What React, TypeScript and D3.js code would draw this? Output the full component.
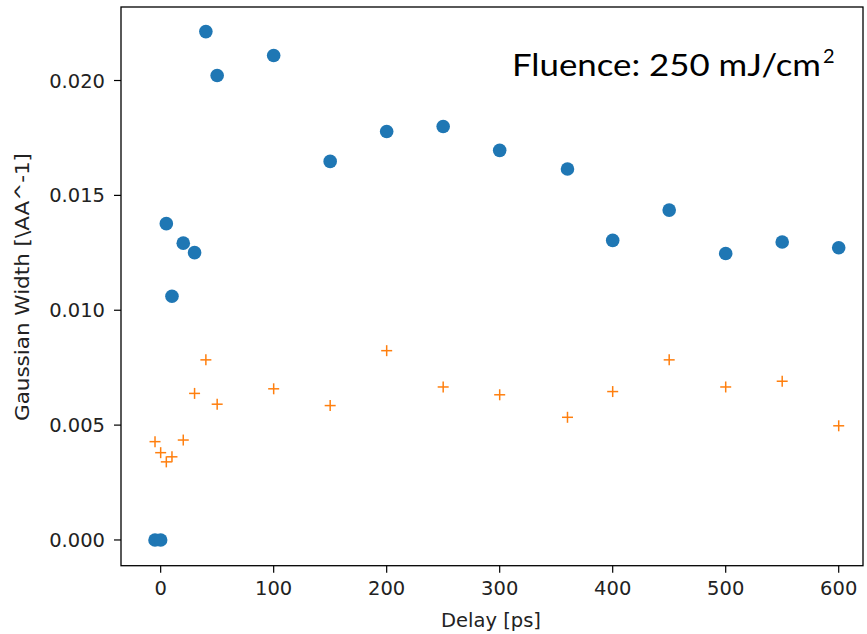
import React, { useEffect } from "react";
import * as d3 from "d3";

const delays = [-5, 0, 5, 10, 20, 30, 40, 50, 100, 150, 200, 250, 300, 360, 400, 450, 500, 550, 600];
const blueWidths = [0, 0, 0.01377, 0.01061, 0.01292, 0.01251, 0.02213, 0.02022, 0.02109, 0.01648, 0.01778, 0.0180, 0.01696, 0.01615, 0.01304, 0.01436, 0.01247, 0.01297, 0.01272];
const orangeWidths = [0.00428, 0.0038, 0.0034, 0.00362, 0.00435, 0.00638, 0.00784, 0.00591, 0.00658, 0.00585, 0.00824, 0.00666, 0.00632, 0.00534, 0.00646, 0.00784, 0.00666, 0.00691, 0.00497];
const xTicks = [0, 100, 200, 300, 400, 500, 600];
const yTicks = [0, 0.005, 0.01, 0.015, 0.02];

const W = 867, H = 634;
const left = 121, right = 863, top = 7, bottom = 565.7;

export default function App() {
  useEffect(() => {
    document.body.style.margin = "0";
  }, []);
  const x = d3.scaleLinear().domain([-35.1, 621.5]).range([left, right]);
  const y = d3.scaleLinear().domain([-0.00112, 0.0232]).range([bottom, top]);
  const font = "DejaVu Sans, sans-serif";
  const fs = 19.5;
  const cs = 5.5;
  return (
    <svg width={W} height={H} style={{ display: "block", background: "#fff" }}>
      {xTicks.map((t) => (
        <g key={"x" + t}>
          <line x1={x(t)} x2={x(t)} y1={bottom} y2={bottom + 7} stroke="#000" strokeWidth={1.2} />
          <text x={x(t)} y={bottom + 29} textAnchor="middle" fontFamily={font} fontSize={fs} fill="#222">{t}</text>
        </g>
      ))}
      {yTicks.map((t) => (
        <g key={"y" + t}>
          <line x1={left - 7} x2={left} y1={y(t)} y2={y(t)} stroke="#000" strokeWidth={1.2} />
          <text x={left - 16} y={y(t)} dy="0.36em" textAnchor="end" fontFamily={font} fontSize={fs} fill="#222">{d3.format(".3f")(t)}</text>
        </g>
      ))}
      <text x={491} y={627} textAnchor="middle" fontFamily={font} fontSize={fs} fill="#222">Delay [ps]</text>
      <text transform={`translate(29,287) rotate(-90)`} textAnchor="middle" fontFamily={font} fontSize={fs} fill="#222" textLength={268} lengthAdjust="spacingAndGlyphs">Gaussian Width [\AA^-1]</text>
      {delays.map((d, i) => (
        <circle key={"b" + i} cx={x(d)} cy={y(blueWidths[i])} r={6.8} fill="#1f77b4" />
      ))}
      {delays.map((d, i) => {
        const cx = x(d), cy = y(orangeWidths[i]);
        return (
          <g key={"o" + i} stroke="#ff7f0e" strokeWidth={1.5}>
            <line x1={cx - cs} x2={cx + cs} y1={cy} y2={cy} />
            <line x1={cx} x2={cx} y1={cy - cs} y2={cy + cs} />
          </g>
        );
      })}
      <rect x={left} y={top} width={right - left} height={bottom - top} fill="none" stroke="#000" strokeWidth={1.3} />
      <text x={512} y={76} fontFamily="Lato, 'Open Sans', sans-serif" fontSize={31} fill="#000" textLength={309} lengthAdjust="spacingAndGlyphs">Fluence: 250 mJ/cm</text>
      <text x={823} y={63} fontFamily="Lato, 'Open Sans', sans-serif" fontSize={20} fill="#000">2</text>
    </svg>
  );
}
